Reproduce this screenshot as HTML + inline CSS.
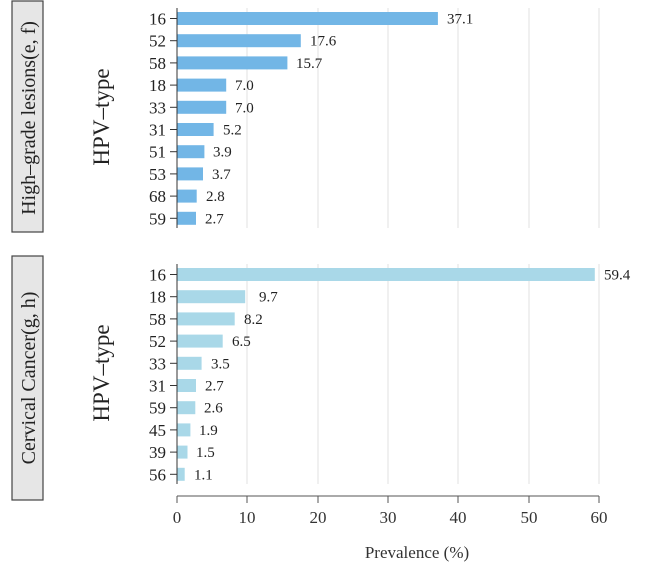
<!DOCTYPE html><html><head><style>body{margin:0;background:#fff}</style></head><body>
<svg width="645" height="563" xmlns="http://www.w3.org/2000/svg" font-family="Liberation Serif, serif">
<rect x="12" y="1" width="31" height="231" fill="#e6e6e6" stroke="#444" stroke-width="1.2"/>
<text transform="translate(35,118) rotate(-90)" text-anchor="middle" font-size="20" fill="#222">High–grade lesions(e, f)</text>
<rect x="12" y="256" width="31" height="244" fill="#e6e6e6" stroke="#444" stroke-width="1.2"/>
<text transform="translate(35,378) rotate(-90)" text-anchor="middle" font-size="20" fill="#222">Cervical Cancer(g, h)</text>
<text transform="translate(109,117) rotate(-90)" text-anchor="middle" font-size="23" fill="#222">HPV–type</text>
<text transform="translate(109,373) rotate(-90)" text-anchor="middle" font-size="23" fill="#222">HPV–type</text>
<g stroke="#e0e0e0" stroke-width="1">
<line x1="247" y1="8" x2="247" y2="228"/><line x1="318" y1="8" x2="318" y2="228"/><line x1="388" y1="8" x2="388" y2="228"/><line x1="458" y1="8" x2="458" y2="228"/><line x1="529" y1="8" x2="529" y2="228"/><line x1="599" y1="8" x2="599" y2="228"/>
<line x1="247" y1="264" x2="247" y2="484"/><line x1="318" y1="264" x2="318" y2="484"/><line x1="388" y1="264" x2="388" y2="484"/><line x1="458" y1="264" x2="458" y2="484"/><line x1="529" y1="264" x2="529" y2="484"/><line x1="599" y1="264" x2="599" y2="484"/>
</g>
<g font-size="17" fill="#222">
<g fill="#72b6e6">
<rect x="177" y="12" width="260.9" height="13"/>
<rect x="177" y="34.2" width="123.8" height="13"/>
<rect x="177" y="56.4" width="110.4" height="13"/>
<rect x="177" y="78.6" width="49.2" height="13"/>
<rect x="177" y="100.8" width="49.2" height="13"/>
<rect x="177" y="123" width="36.6" height="13"/>
<rect x="177" y="145.2" width="27.4" height="13"/>
<rect x="177" y="167.4" width="26" height="13"/>
<rect x="177" y="189.6" width="19.7" height="13"/>
<rect x="177" y="211.8" width="19" height="13"/>
</g>
<g fill="#a9d8e8">
<rect x="177" y="268" width="417.8" height="13"/>
<rect x="177" y="290.2" width="68.2" height="13"/>
<rect x="177" y="312.4" width="57.7" height="13"/>
<rect x="177" y="334.6" width="45.7" height="13"/>
<rect x="177" y="356.8" width="24.6" height="13"/>
<rect x="177" y="379" width="19" height="13"/>
<rect x="177" y="401.2" width="18.3" height="13"/>
<rect x="177" y="423.4" width="13.4" height="13"/>
<rect x="177" y="445.6" width="10.5" height="13"/>
<rect x="177" y="467.8" width="7.7" height="13"/>
</g>
<g stroke="#333">
<line x1="170" y1="18.5" x2="177" y2="18.5"/><line x1="170" y1="40.7" x2="177" y2="40.7"/><line x1="170" y1="62.9" x2="177" y2="62.9"/><line x1="170" y1="85.1" x2="177" y2="85.1"/><line x1="170" y1="107.3" x2="177" y2="107.3"/><line x1="170" y1="129.5" x2="177" y2="129.5"/><line x1="170" y1="151.7" x2="177" y2="151.7"/><line x1="170" y1="173.9" x2="177" y2="173.9"/><line x1="170" y1="196.1" x2="177" y2="196.1"/><line x1="170" y1="218.3" x2="177" y2="218.3"/>
<line x1="170" y1="274.5" x2="177" y2="274.5"/><line x1="170" y1="296.7" x2="177" y2="296.7"/><line x1="170" y1="318.9" x2="177" y2="318.9"/><line x1="170" y1="341.1" x2="177" y2="341.1"/><line x1="170" y1="363.3" x2="177" y2="363.3"/><line x1="170" y1="385.5" x2="177" y2="385.5"/><line x1="170" y1="407.7" x2="177" y2="407.7"/><line x1="170" y1="429.9" x2="177" y2="429.9"/><line x1="170" y1="452.1" x2="177" y2="452.1"/><line x1="170" y1="474.3" x2="177" y2="474.3"/>
</g>
<g text-anchor="end">
<text x="166" y="24.5">16</text><text x="166" y="46.7">52</text><text x="166" y="68.9">58</text><text x="166" y="91.1">18</text><text x="166" y="113.3">33</text><text x="166" y="135.5">31</text><text x="166" y="157.7">51</text><text x="166" y="179.9">53</text><text x="166" y="202.1">68</text><text x="166" y="224.3">59</text>
<text x="166" y="280.5">16</text><text x="166" y="302.7">18</text><text x="166" y="324.9">58</text><text x="166" y="347.1">52</text><text x="166" y="369.3">33</text><text x="166" y="391.5">31</text><text x="166" y="413.7">59</text><text x="166" y="435.9">45</text><text x="166" y="458.1">39</text><text x="166" y="480.3">56</text>
</g>
<g font-size="15">
<text x="447" y="23.5">37.1</text><text x="310" y="45.7">17.6</text><text x="296" y="67.9">15.7</text><text x="235" y="90.1">7.0</text><text x="235" y="112.3">7.0</text><text x="223" y="134.5">5.2</text><text x="213" y="156.7">3.9</text><text x="212" y="178.9">3.7</text><text x="206" y="201.1">2.8</text><text x="205" y="223.3">2.7</text>
<text x="604" y="279.5">59.4</text><text x="259" y="301.7">9.7</text><text x="244" y="323.9">8.2</text><text x="232" y="346.1">6.5</text><text x="211" y="368.3">3.5</text><text x="205" y="390.5">2.7</text><text x="204" y="412.7">2.6</text><text x="199" y="434.9">1.9</text><text x="196" y="457.1">1.5</text><text x="194" y="479.3">1.1</text>
</g>
</g>
<line x1="177" y1="8" x2="177" y2="228" stroke="#333"/>
<line x1="177" y1="264" x2="177" y2="484" stroke="#333"/>
<line x1="177" y1="496" x2="599" y2="496" stroke="#555"/>
<g stroke="#555">
<line x1="177" y1="496" x2="177" y2="503"/><line x1="247" y1="496" x2="247" y2="503"/><line x1="318" y1="496" x2="318" y2="503"/><line x1="388" y1="496" x2="388" y2="503"/><line x1="458" y1="496" x2="458" y2="503"/><line x1="529" y1="496" x2="529" y2="503"/><line x1="599" y1="496" x2="599" y2="503"/>
</g>
<g font-size="17" fill="#333" text-anchor="middle">
<text x="177" y="523">0</text><text x="247" y="523">10</text><text x="318" y="523">20</text><text x="388" y="523">30</text><text x="458" y="523">40</text><text x="529" y="523">50</text><text x="599" y="523">60</text>
</g>
<text x="417" y="558" font-size="17" fill="#333" text-anchor="middle">Prevalence (%)</text>
</svg></body></html>
